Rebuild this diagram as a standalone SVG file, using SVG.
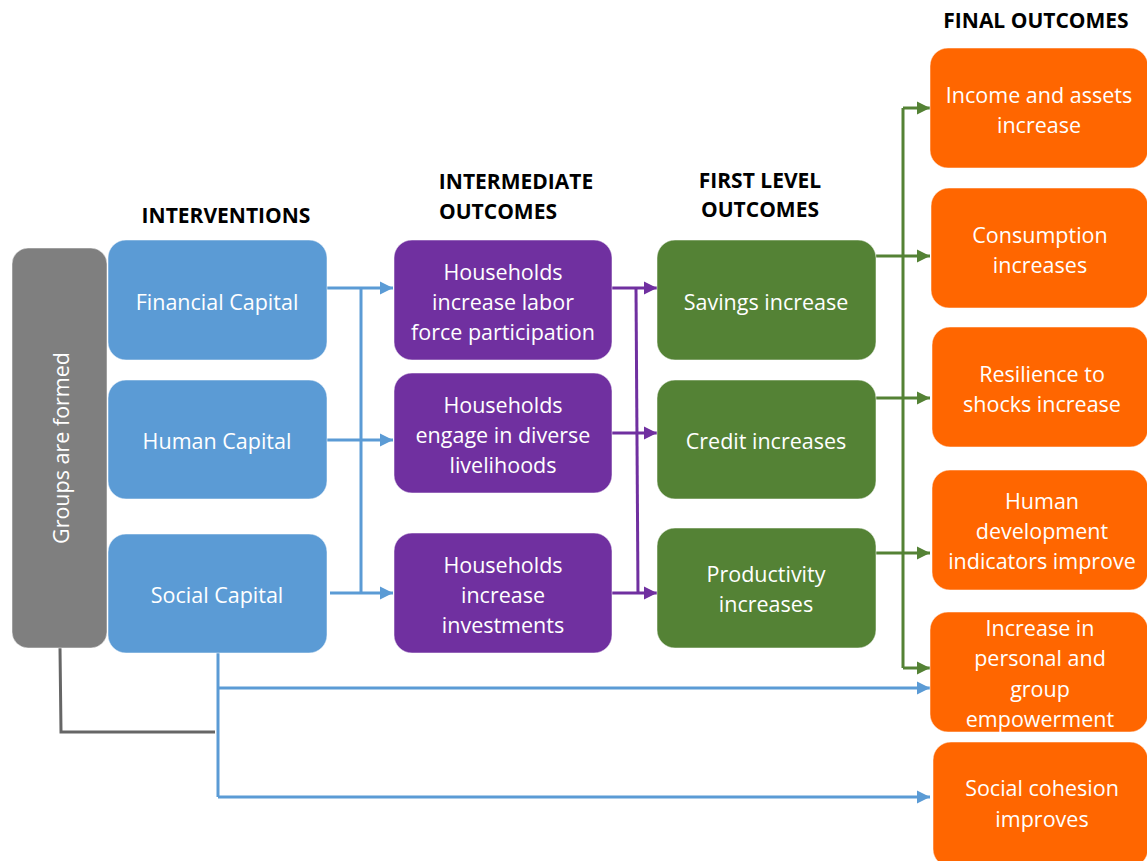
<svg xmlns="http://www.w3.org/2000/svg" width="1147" height="861" viewBox="0 0 1147 861">
  <style>
    .box { stroke: #ffffff; stroke-opacity: 0.5; stroke-width: 1; }
    .gray { fill: #7f7f7f; }
    .blue { fill: #5b9bd5; }
    .purple { fill: #7030a0; }
    .green { fill: #548235; }
    .orange { fill: #ff6600; }
    .t { font-family: "Open Sans", "Liberation Sans", sans-serif; font-size: 21.5px; fill: #ffffff; text-anchor: middle; dominant-baseline: central; }
    .h { font-family: "Open Sans", "Liberation Sans", sans-serif; font-size: 21px; font-weight: bold; fill: #000000; text-anchor: middle; dominant-baseline: central; }
    .cb { stroke: #5b9bd5; stroke-width: 3; fill: none; }
    .cp { stroke: #7030a0; stroke-width: 3; fill: none; }
    .cg { stroke: #548235; stroke-width: 3; fill: none; }
    .ck { stroke: #666666; stroke-width: 3; fill: none; }
  </style>
  <defs>
    <marker id="ab" viewBox="0 0 10 10" refX="10" refY="5" markerWidth="4.5" markerHeight="4.5" orient="auto" markerUnits="strokeWidth">
      <path d="M0,0 L10,5 L0,10 z" fill="#5b9bd5"/>
    </marker>
    <marker id="ap" viewBox="0 0 10 10" refX="10" refY="5" markerWidth="4.5" markerHeight="4.5" orient="auto" markerUnits="strokeWidth">
      <path d="M0,0 L10,5 L0,10 z" fill="#7030a0"/>
    </marker>
    <marker id="ag" viewBox="0 0 10 10" refX="10" refY="5" markerWidth="4.5" markerHeight="4.5" orient="auto" markerUnits="strokeWidth">
      <path d="M0,0 L10,5 L0,10 z" fill="#548235"/>
    </marker>
  </defs>

  <rect width="1147" height="861" fill="#ffffff"/>

  <!-- Column headers -->
  <g id="headers">
    <text class="h" x="226" y="215">INTERVENTIONS</text>
    <text class="h" x="516" y="181">INTERMEDIATE</text>
    <text class="h" x="498" y="211">OUTCOMES</text>
    <text class="h" x="760" y="180">FIRST LEVEL</text>
    <text class="h" x="760" y="209">OUTCOMES</text>
    <text class="h" x="1036" y="20">FINAL OUTCOMES</text>
  </g>

  <!-- Connectors -->
  <g id="connectors">
    <!-- interventions to intermediate outcomes -->
    <path class="cb" d="M327,288 H393" marker-end="url(#ab)"/>
    <path class="cb" d="M327,440 H393" marker-end="url(#ab)"/>
    <path class="cb" d="M330,593 H393" marker-end="url(#ab)"/>
    <path class="cb" d="M361,288 V593"/>
    <!-- intermediate to first level -->
    <path class="cp" d="M612,288 H657" marker-end="url(#ap)"/>
    <path class="cp" d="M612,433 H657" marker-end="url(#ap)"/>
    <path class="cp" d="M612,593 H657" marker-end="url(#ap)"/>
    <path class="cp" d="M636,288 L638,593"/>
    <!-- first level to final -->
    <path class="cg" d="M876,256 H930" marker-end="url(#ag)"/>
    <path class="cg" d="M876,398 H930" marker-end="url(#ag)"/>
    <path class="cg" d="M876,553 H930" marker-end="url(#ag)"/>
    <path class="cg" d="M903,108 V668"/>
    <path class="cg" d="M903,108 H930" marker-end="url(#ag)"/>
    <path class="cg" d="M903,668 H930" marker-end="url(#ag)"/>
    <!-- social capital to empowerment and cohesion -->
    <path class="cb" d="M218,653 V797"/>
    <path class="cb" d="M218,688 H930" marker-end="url(#ab)"/>
    <path class="cb" d="M218,797 H930" marker-end="url(#ab)"/>
    <!-- groups formed link -->
    <path class="ck" d="M60,648 L61,732 H215"/>
  </g>

  <!-- Groups -->
  <g id="groups-formed">
    <rect class="box gray" x="12" y="248" width="95" height="400" rx="16"/>
    <text class="t" transform="translate(60,448) rotate(-90)" x="0" y="0">Groups are formed</text>
  </g>

  <!-- Interventions -->
  <g id="financial-capital">
    <rect class="box blue" x="108" y="240" width="219" height="120" rx="18"/>
    <text class="t" x="217" y="301">Financial Capital</text>
  </g>
  <g id="human-capital">
    <rect class="box blue" x="108" y="380" width="219" height="119" rx="18"/>
    <text class="t" x="217" y="440">Human Capital</text>
  </g>
  <g id="social-capital">
    <rect class="box blue" x="108" y="534" width="219" height="119" rx="18"/>
    <text class="t" x="217" y="594">Social Capital</text>
  </g>

  <!-- Intermediate outcomes -->
  <g id="labor-force">
    <rect class="box purple" x="394" y="240" width="218" height="120" rx="18"/>
    <text class="t" x="503" y="271">Households</text>
    <text class="t" x="503" y="301">increase labor</text>
    <text class="t" x="503" y="331">force participation</text>
  </g>
  <g id="diverse-livelihoods">
    <rect class="box purple" x="394" y="373" width="218" height="120" rx="18"/>
    <text class="t" x="503" y="404">Households</text>
    <text class="t" x="503" y="434">engage in diverse</text>
    <text class="t" x="503" y="464">livelihoods</text>
  </g>
  <g id="investments">
    <rect class="box purple" x="394" y="533" width="218" height="120" rx="18"/>
    <text class="t" x="503" y="564">Households</text>
    <text class="t" x="503" y="594">increase</text>
    <text class="t" x="503" y="624">investments</text>
  </g>

  <!-- First level outcomes -->
  <g id="savings">
    <rect class="box green" x="657" y="240" width="219" height="120" rx="18"/>
    <text class="t" x="766" y="301">Savings increase</text>
  </g>
  <g id="credit">
    <rect class="box green" x="657" y="380" width="219" height="119" rx="18"/>
    <text class="t" x="766" y="440">Credit increases</text>
  </g>
  <g id="productivity">
    <rect class="box green" x="657" y="528" width="219" height="120" rx="18"/>
    <text class="t" x="766" y="573">Productivity</text>
    <text class="t" x="766" y="603">increases</text>
  </g>

  <!-- Final outcomes -->
  <g id="income-assets">
    <rect class="box orange" x="930" y="48" width="218" height="120" rx="18"/>
    <text class="t" x="1039" y="94">Income and assets</text>
    <text class="t" x="1039" y="124">increase</text>
  </g>
  <g id="consumption">
    <rect class="box orange" x="931" y="188" width="217" height="120" rx="18"/>
    <text class="t" x="1040" y="234">Consumption</text>
    <text class="t" x="1040" y="264">increases</text>
  </g>
  <g id="resilience">
    <rect class="box orange" x="932" y="327" width="216" height="120" rx="18"/>
    <text class="t" x="1042" y="373">Resilience to</text>
    <text class="t" x="1042" y="403">shocks increase</text>
  </g>
  <g id="human-development">
    <rect class="box orange" x="932" y="470" width="216" height="120" rx="18"/>
    <text class="t" x="1042" y="500">Human</text>
    <text class="t" x="1042" y="530">development</text>
    <text class="t" x="1042" y="560">indicators improve</text>
  </g>
  <g id="empowerment">
    <rect class="box orange" x="930" y="612" width="218" height="120" rx="18"/>
    <text class="t" x="1040" y="627">Increase in</text>
    <text class="t" x="1040" y="657">personal and</text>
    <text class="t" x="1040" y="688">group</text>
    <text class="t" x="1040" y="718">empowerment</text>
  </g>
  <g id="social-cohesion">
    <rect class="box orange" x="933" y="742" width="215" height="125" rx="18"/>
    <text class="t" x="1042" y="787">Social cohesion</text>
    <text class="t" x="1042" y="818">improves</text>
  </g>
</svg>
